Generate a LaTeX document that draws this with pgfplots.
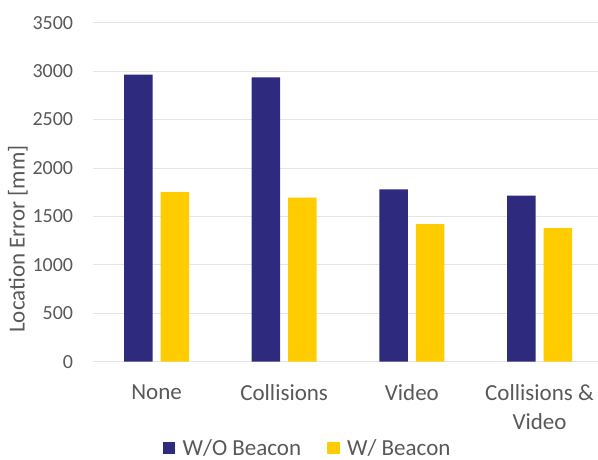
\documentclass[border=0pt]{standalone}
\usepackage{fontspec}
\setmainfont{Carlito}
\usepackage{pgfplots}
\pgfplotsset{compat=1.18}
\definecolor{barblue}{HTML}{2E2A7E}
\definecolor{baryellow}{HTML}{FFCC00}
\definecolor{txtgray}{HTML}{595959}
\definecolor{gridgray}{HTML}{E4E4E4}
\pgfplotsset{sqlegend/.style={legend image code/.code={\fill[##1] (0pt,-6.3pt) rectangle (12.6pt,6.3pt);}}}
\begin{document}
\begin{tikzpicture}
\useasboundingbox (-92.7pt,-98.3pt) rectangle (505.3pt,361.7pt);
\begin{axis}[
  at={(0,0)}, anchor=south west,
  scale only axis, width=505.3pt, height=339pt,
  ymin=0, ymax=3500, ytick={0,500,...,3500},
  xmin=-0.5, xmax=3.458,
  xtick={0,1,2,3},
  xticklabels={None, Collisions, Video, {Collisions \&\\Video}},
  ybar=8pt, bar width=28.5pt,
  axis line style={draw=none},
  major tick length=0pt,
  ymajorgrids, grid style={gridgray, line width=0.8pt},
  tick label style={text=txtgray},
  /pgf/number format/assume math mode=true,
  /pgf/number format/1000 sep={},
  yticklabel style={font=\fontsize{20}{24}\selectfont, inner sep=0pt, xshift=-19.4pt},
  xticklabel style={font=\fontsize{23}{29}\selectfont, align=center, inner sep=0pt, yshift=-22.6pt},
  ylabel={Location Error [mm]},
  ylabel style={font=\fontsize{23}{28}\selectfont, text=txtgray, at={(axis description cs:-0.148,0.362)}, anchor=center, inner sep=0pt},
  legend columns=2,
  legend style={at={(axis description cs:0,0)}, anchor=west, xshift=70pt, yshift=-86.5pt,
    inner sep=0pt, outer sep=0pt, draw=none, fill=none,
    font=\fontsize{23}{28}\selectfont, text=txtgray,
    nodes={inner sep=0pt},
    /tikz/every odd column/.append style={column sep=7.4pt},
    /tikz/every even column/.append style={column sep=26pt}},
  legend cell align=left,
]
\addplot[fill=barblue, draw=none, sqlegend] coordinates {(0,2965) (1,2935) (2,1780) (3,1715)};
\addplot[fill=baryellow, draw=none, sqlegend] coordinates {(0,1750) (1,1695) (2,1420) (3,1380)};
\legend{W/O Beacon, W/ Beacon}
\end{axis}
\end{tikzpicture}
\end{document}
